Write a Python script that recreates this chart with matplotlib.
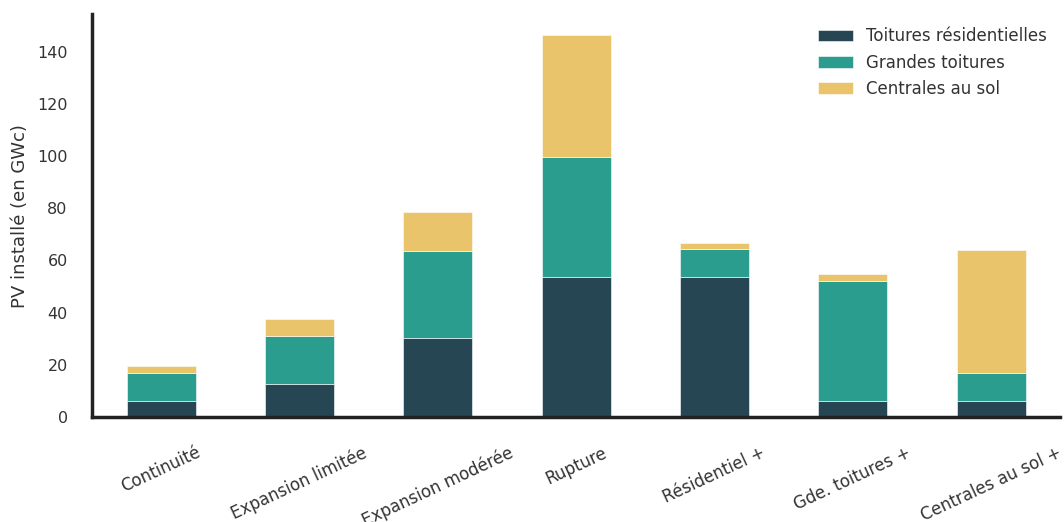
import matplotlib
matplotlib.use("Agg")
import matplotlib.pyplot as plt
import numpy as np

scenarios = ["Continuité", "Expansion limitée", "Expansion modérée", "Rupture",
             "Résidentiel +", "Gde. toitures +", "Centrales au sol +"]
series_names = ["Toitures résidentielles", "Grandes toitures", "Centrales au sol"]
residentiel = [6.2, 12.6, 30.4, 53.6, 53.6, 6.2, 6.2]
grandes = [10.6, 18.5, 33.4, 46.1, 10.9, 46.0, 10.6]
sol = [2.6, 6.4, 14.7, 46.8, 2.2, 2.7, 47.1]
colors = ["#264653", "#2a9d8f", "#e9c46a"]

plt.rcParams['font.family'] = ['DejaVu Sans']
fig = plt.figure(figsize=(10.64, 5.22), dpi=100)
ax = fig.add_axes([0.0865, 0.201, 0.91, 0.772])

x = np.arange(len(scenarios))
bottom = np.zeros(len(scenarios))
for name, vals, c in zip(series_names, [residentiel, grandes, sol], colors):
    ax.bar(x, vals, width=0.5, bottom=bottom, color=c, label=name,
           edgecolor='white', linewidth=0.4)
    bottom += np.array(vals)

ax.set_xlim(-0.5, 6.5)
ax.set_ylim(0, 154.4)
ax.set_yticks(np.arange(0, 141, 20))
ax.set_xticks(x)
ax.set_xticklabels(scenarios, rotation=25, ha='center', fontsize=12, color='#333333')
ax.tick_params(axis='y', labelsize=11.5, labelcolor='#333333', length=0, pad=17.5)
ax.tick_params(axis='x', length=0, pad=19)
ax.set_ylabel("PV installé (en GWc)", fontsize=13, color='#333333', labelpad=6)

for s in ['top', 'right']:
    ax.spines[s].set_visible(False)
for s in ['left', 'bottom']:
    ax.spines[s].set_linewidth(2.5)
    ax.spines[s].set_color('#222222')

ax.legend(loc='upper right', frameon=False, fontsize=12, handlelength=2.1,
          labelcolor='#333333', borderaxespad=0.4)

fig.savefig("out.png", dpi=100)
